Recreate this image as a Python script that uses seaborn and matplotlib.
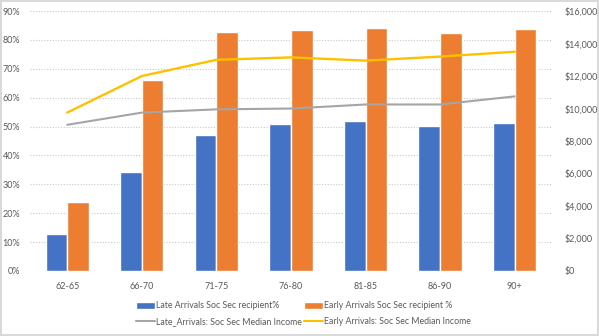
import matplotlib
matplotlib.use("Agg")
import matplotlib.pyplot as plt
from matplotlib.patches import Patch
from matplotlib.lines import Line2D
from matplotlib.ticker import FuncFormatter, MultipleLocator
import seaborn as sns
import pandas as pd

age_groups = ["62-65", "66-70", "71-75", "76-80", "81-85", "86-90", "90+"]
late_recipient_pct = [0.128, 0.343, 0.471, 0.510, 0.520, 0.503, 0.513]
early_recipient_pct = [0.238, 0.662, 0.828, 0.836, 0.843, 0.825, 0.838]
late_median_income = [9000, 9750, 9950, 10000, 10250, 10250, 10750]
early_median_income = [9750, 12000, 13000, 13150, 12950, 13200, 13500]

series_late_bar = "Late Arrivals Soc Sec recipient%"
series_early_bar = "Early Arrivals Soc Sec recipient %"
series_late_line = "Late_Arrivals: Soc Sec Median Income"
series_early_line = "Early Arrivals: Soc Sec Median Income"

BLUE = "#4472C4"
ORANGE = "#ED7D31"
GRAY = "#A5A5A5"
GOLD = "#FFC000"
TEXT = "#595959"

sns.set_theme(style="white")
plt.rcParams["font.family"] = ["Lato", "DejaVu Sans"]

bars = pd.DataFrame({
    "age": age_groups * 2,
    "pct": late_recipient_pct + early_recipient_pct,
    "series": [series_late_bar] * len(age_groups) + [series_early_bar] * len(age_groups),
})

fig = plt.figure(figsize=(5.99, 3.36), dpi=100)
fig.patch.set_edgecolor("#D9D9D9")
fig.patch.set_linewidth(1.5)
ax = fig.add_axes([0.050, 0.1935, 0.8715, 0.7735])

sns.barplot(data=bars, x="age", y="pct", hue="series", order=age_groups,
            palette=[BLUE, ORANGE], width=0.58, saturation=1, ax=ax,
            legend=False, zorder=3)
ax.set_ylim(0, 0.9)
ax.yaxis.set_major_locator(MultipleLocator(0.1))
ax.yaxis.set_major_formatter(FuncFormatter(lambda v, p: f"{v*100:.0f}%"))
ax.grid(axis="y", color="#C8C8C8", linestyle=(0, (1, 1.5)), linewidth=0.8, zorder=0)
ax.set_axisbelow(True)

ax2 = ax.twinx()
sns.pointplot(x=age_groups, y=late_median_income, ax=ax2, color=GRAY,
              markers="", linestyles="-", linewidth=1.5)
sns.pointplot(x=age_groups, y=early_median_income, ax=ax2, color=GOLD,
              markers="", linestyles="-", linewidth=1.7)
ax2.set_ylim(0, 16000)
ax2.yaxis.set_major_locator(MultipleLocator(2000))
ax2.yaxis.set_major_formatter(FuncFormatter(lambda v, p: f"${v:,.0f}"))
ax2.set_xlim(-0.5, len(age_groups) - 0.5)

for a in (ax, ax2):
    for s in a.spines.values():
        s.set_visible(False)
    a.set_xlabel("")
    a.set_ylabel("")
    a.tick_params(length=0, labelsize=6.5, colors=TEXT)
ax.tick_params(axis="x", pad=8)
ax.tick_params(axis="y", pad=7)
ax2.tick_params(axis="y", pad=9)

handles = [
    Patch(facecolor=BLUE, label=series_late_bar),
    Line2D([], [], color=GRAY, linewidth=1.5, label=series_late_line),
    Patch(facecolor=ORANGE, label=series_early_bar),
    Line2D([], [], color=GOLD, linewidth=1.5, label=series_early_line),
]
fig.legend(handles=handles, ncol=2, loc="lower left",
           bbox_to_anchor=(0.222, 0.022), frameon=False, fontsize=6.3,
           labelcolor=TEXT, handlelength=2.2, handleheight=0.9,
           handletextpad=0.15, columnspacing=0.2, labelspacing=0.75,
           borderpad=0.3, borderaxespad=0)

fig.savefig("out.png", dpi=100)
